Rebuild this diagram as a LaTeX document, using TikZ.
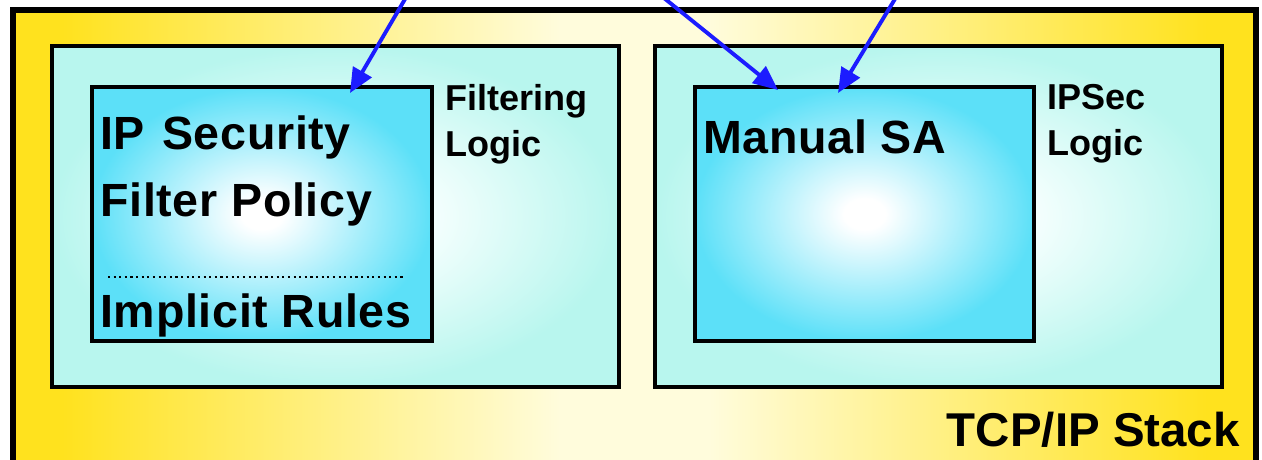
\documentclass[tikz,border=0pt]{standalone}
\usepackage{fontspec}
\setmainfont{Liberation Sans}
\usepackage{xcolor}
\usepackage{tikz}
\usetikzlibrary{positioning,arrows.meta,calc}

\definecolor{stackgold}{HTML}{FFE21E}
\definecolor{stackpale}{HTML}{FFFCDC}
\definecolor{logicaqua}{HTML}{B8F6EE}
\definecolor{logicpale}{HTML}{F6FFFE}
\definecolor{boxcyan}{HTML}{5CE0F8}
\definecolor{arrowblue}{HTML}{1C1CFF}

\pgfdeclarehorizontalshading{stackshade}{100bp}{color(0bp)=(stackgold); color(27bp)=(stackgold); color(36bp)=(stackpale!45!stackgold); color(47bp)=(stackpale); color(53bp)=(stackpale); color(64bp)=(stackpale!45!stackgold); color(73bp)=(stackgold); color(100bp)=(stackgold)}
\pgfdeclareradialshading{logicshade}{\pgfpoint{0bp}{0bp}}{color(0bp)=(logicpale); color(8bp)=(logicpale); color(25bp)=(logicaqua); color(50bp)=(logicaqua)}
\pgfdeclareradialshading{policyshade}{\pgfpoint{0bp}{0bp}}{color(0bp)=(white); color(3bp)=(white); color(25bp)=(boxcyan); color(50bp)=(boxcyan)}

\begin{document}
\begin{tikzpicture}[
    stack/.style={draw, line width=3pt, shading=stackshade},
    logic/.style={draw, line width=2.4pt, shading=logicshade},
    policy/.style={draw, line width=2.4pt, shading=policyshade},
    bigtxt/.style={anchor=west, inner sep=0pt, font=\fontsize{26.5}{30}\selectfont\bfseries\addfontfeature{LetterSpace=1.5}},
    sidetxt/.style={anchor=north west, inner sep=0pt, align=left, font=\fontsize{20.5}{26}\selectfont\bfseries},
    arrow/.style={-{Triangle[length=14pt, width=12pt]}, line width=2.2pt, arrowblue}
]
\useasboundingbox (0,0) rectangle (25.24,9.18);
\clip (0,0) rectangle (25.24,9.18);
\fill[white] (0,0) rectangle (25.24,9.18);

% TCP/IP stack (outer box)
\path[stack] (0.26,-0.6) rectangle (25.12,8.98);
\node[anchor=east, inner sep=0pt, font=\fontsize{27}{30}\selectfont\bfseries] (stacklbl) at (24.8,0.58) {TCP/IP Stack};

% Filtering logic (left)
\path[logic] (1.04,1.44) rectangle (12.38,8.26);
\path[policy] (1.84,2.36) rectangle (8.64,7.44);
\node[bigtxt] (ipsec) at (2.0,6.44) {IP\hspace{2pt} Security};
\node[bigtxt] (filter) at (2.0,5.1) {Filter Policy};
\coordinate (dotL) at (2.16,3.64);
\coordinate (dotR) at (8.08,3.64);
\draw[dotted, line width=1.2pt] (dotL) -- (dotR);
\node[bigtxt] (implicit) at (2.0,2.88) {Implicit Rules};
\node[sidetxt] (filtering) at (8.9,7.5) {Filtering\\Logic};

% IPSec logic (right)
\path[logic] (13.1,1.44) rectangle (24.44,8.26);
\path[policy] (13.9,2.36) rectangle (20.68,7.44);
\node[bigtxt] (manual) at (14.06,6.44) {Manual SA};
\node[sidetxt] (ipseclogic) at (20.94,7.5) {IPSec\\Logic};

% Incoming arrows
\coordinate (src1) at (8.16,9.3);
\coordinate (src2) at (13.18,9.3);
\coordinate (src3) at (17.96,9.3);
\coordinate (tip1) at (7.0,7.32);
\coordinate (tip2) at (15.56,7.38);
\coordinate (tip3) at (16.76,7.32);
\draw[arrow] (src1) -- (tip1);
\draw[arrow] (src2) -- (tip2);
\draw[arrow] (src3) -- (tip3);

\end{tikzpicture}
\end{document}
